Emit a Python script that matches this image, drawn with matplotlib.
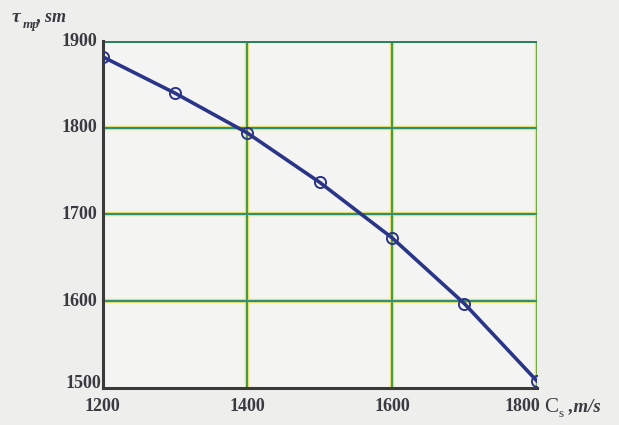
import numpy as np
import matplotlib.pyplot as plt

# data
speed = [1200, 1300, 1400, 1500, 1600, 1700, 1800]
tau = [1882, 1840, 1794, 1737, 1673, 1597, 1508]
x_ticks = [1200, 1400, 1600, 1800]
y_ticks = [1500, 1600, 1700, 1800, 1900]

fig = plt.figure(figsize=(6.19, 4.25), dpi=100)
fig.patch.set_facecolor("#eeeeec")
ax = fig.add_axes([0.166, 0.088, 0.701, 0.815])
ax.set_facecolor("#f4f4f2")

ax.set_xlim(1200, 1800)
ax.set_ylim(1500, 1900)

# greenish grid lines with a faint yellow halo like the scan
for x in x_ticks[1:-1]:
    ax.axvline(x, color="#e8e070", lw=3.2, zorder=1)
    ax.axvline(x, color="#3f9a52", lw=1.4, zorder=2)
for y in y_ticks[1:-1]:
    ax.axhline(y, color="#e8e070", lw=3.2, zorder=1)
    ax.axhline(y, color="#2e8f7a", lw=1.5, zorder=2)
ax.axvline(1800, color="#e8e070", lw=3.2, zorder=1)
ax.axvline(1800, color="#4a9a40", lw=1.8, zorder=2)
ax.axhline(1900, color="#2e8060", lw=2.2, zorder=2)

ax.plot(speed, tau, color="#2a3588", lw=2.6, zorder=4,
        marker="o", ms=8, mfc="none", mec="#2a3588", mew=1.4)

for side in ["left", "bottom"]:
    ax.spines[side].set_color("#3a3a3a")
    ax.spines[side].set_linewidth(2.2)
ax.spines["top"].set_visible(False)
ax.spines["right"].set_visible(False)

ax.set_xticks([])
ax.set_yticks([])

ink = "#3a3a40"
font = dict(family="Liberation Serif", weight="bold", color=ink)
# y tick labels
for y in y_ticks[1:]:
    ax.text(-0.012, (y - 1500) / 400, str(y), transform=ax.transAxes,
            ha="right", va="center", fontsize=13, **font)
ax.text(-0.004, 0.012, "1500", transform=ax.transAxes,
        ha="right", va="center", fontsize=13, **font)
# x tick labels (the last one sits left of the corner, as in the scan)
for x in x_ticks[:-1]:
    ax.text((x - 1200) / 600, -0.03, str(x), transform=ax.transAxes,
            ha="center", va="top", fontsize=13, **font)
ax.text(1.008, -0.03, str(x_ticks[-1]), transform=ax.transAxes,
        ha="right", va="top", fontsize=13, **font)

# axis titles
ax.text(-0.21, 1.045, "τ", transform=ax.transAxes, ha="left", va="bottom",
        fontsize=14, family="Liberation Serif", weight="bold", style="italic",
        color=ink)
ax.text(-0.185, 1.03, "тр", transform=ax.transAxes, ha="left", va="bottom",
        fontsize=9.5, family="Liberation Serif", weight="bold", style="italic",
        color=ink)
ax.text(-0.152, 1.045, ", sm", transform=ax.transAxes, ha="left", va="bottom",
        fontsize=13, family="Liberation Serif", weight="bold", style="italic",
        color=ink)

ax.text(1.017, -0.03, "C", transform=ax.transAxes, ha="left", va="top",
        fontsize=15, family="Liberation Serif", color=ink)
ax.text(1.05, -0.058, "s", transform=ax.transAxes, ha="left", va="top",
        fontsize=9.5, family="Liberation Serif", color=ink)
ax.text(1.062, -0.03, " ,m/s", transform=ax.transAxes, ha="left", va="top",
        fontsize=13.5, family="Liberation Serif", style="italic", weight="bold",
        color=ink)

fig.savefig("out.png", dpi=100, facecolor=fig.get_facecolor())
